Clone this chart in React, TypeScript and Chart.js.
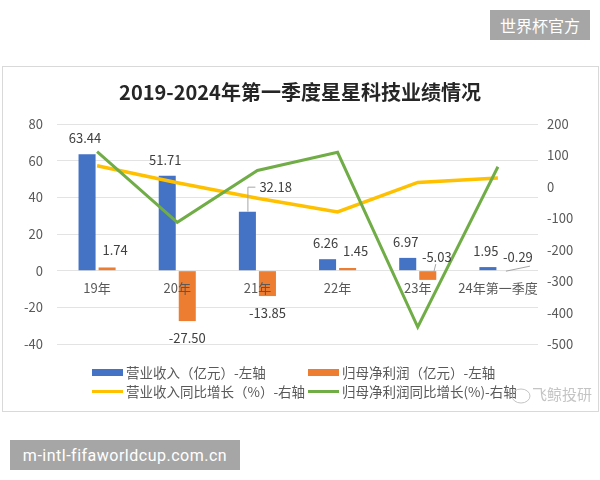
import { useEffect, useRef } from "react";
import { Chart, registerables } from "chart.js";

Chart.register(...registerables);

// ---- data ----
const categories = ["19年", "20年", "21年", "22年", "23年", "24年第一季度"];
const revenue = [63.44, 51.71, 32.18, 6.26, 6.97, 1.95];
const netProfit = [1.74, -27.5, -13.85, 1.45, -5.03, -0.29];
const revenueGrowth = [67, 13, -36, -80, 14, 28];
const profitGrowth = [112, -113, 52, 110, -446, 64];
const leftTicks = { min: -40, max: 80, step: 20 };
const rightTicks = { min: -500, max: 200, step: 100 };

const seriesNames = [
  "营业收入（亿元）-左轴",
  "归母净利润（亿元）-左轴",
  "营业收入同比增长（%）-右轴",
  "归母净利润同比增长(%)-右轴",
];
const titleText = "2019-2024年第一季度星星科技业绩情况";

const BLUE = "#4472C4";
const ORANGE = "#ED7D31";
const YELLOW = "#FFC000";
const GREEN = "#70AD47";
const FONT = '"Noto Sans CJK SC", "Noto Sans", sans-serif';
const TEXT = "#595959";
const LABEL = "#404040";

const framePlugin = {
  id: "frame",
  beforeDraw(chart: any) {
    const ctx = chart.ctx;
    ctx.save();
    ctx.fillStyle = "#ffffff";
    ctx.fillRect(0, 0, chart.width, chart.height);
    ctx.strokeStyle = "#d9d9d9";
    ctx.lineWidth = 1;
    ctx.strokeRect(2.5, 66.5, 596, 345);
    ctx.restore();
  },
};

const labelsPlugin = {
  id: "valueLabels",
  afterDatasetsDraw(chart: any) {
    const ctx = chart.ctx;
    ctx.save();
    ctx.font = `13px ${FONT}`;
    ctx.fillStyle = LABEL;
    ctx.strokeStyle = "#a6a6a6";
    ctx.lineWidth = 1;
    ctx.textBaseline = "middle";
    const m0 = chart.getDatasetMeta(0);
    m0.data.forEach((el: any, i: number) => {
      const p = el.getProps(["x", "y", "base"], true);
      const txt = revenue[i].toFixed(2);
      if (i === 2) {
        ctx.beginPath();
        ctx.moveTo(p.x + 0.5, p.y);
        ctx.lineTo(p.x + 0.5, p.y - 24.5);
        ctx.lineTo(p.x + 8, p.y - 24.5);
        ctx.stroke();
        ctx.textAlign = "left";
        ctx.fillText(txt, p.x + 12, p.y - 25);
      } else {
        ctx.textAlign = "center";
        ctx.fillText(txt, p.x - 2, p.y - 16);
      }
    });
    const m1 = chart.getDatasetMeta(1);
    m1.data.forEach((el: any, i: number) => {
      const p = el.getProps(["x", "y", "base"], true);
      const v = netProfit[i];
      const txt = v.toFixed(2);
      ctx.textAlign = "center";
      if (i === 4) {
        ctx.beginPath();
        ctx.moveTo(p.x + 8, p.base - 7);
        ctx.lineTo(p.x + 6, p.base + 1);
        ctx.stroke();
        ctx.fillText(txt, p.x + 9, p.base - 14);
      } else if (i === 5) {
        ctx.beginPath();
        ctx.moveTo(p.x - 2, p.base);
        ctx.lineTo(p.x + 22, p.base - 5);
        ctx.stroke();
        ctx.fillText(txt, p.x + 10, p.base - 14);
      } else if (v >= 0) {
        ctx.fillText(txt, p.x + 8, p.y - 17);
      } else {
        ctx.fillText(txt, p.x, p.y + 17);
      }
    });
    ctx.restore();
  },
};

const decorPlugin = {
  id: "decor",
  afterDraw(chart: any) {
    const ctx = chart.ctx;
    ctx.save();
    // title
    ctx.fillStyle = "#262626";
    ctx.font = `bold 20px ${FONT}`;
    ctx.textAlign = "center";
    ctx.textBaseline = "middle";
    ctx.fillText(titleText, chart.width / 2, 92);

    // legend
    const colX = [92, 308];
    const rowY = [372, 391];
    const colors = [BLUE, ORANGE, YELLOW, GREEN];
    ctx.font = `13.5px ${FONT}`;
    ctx.textAlign = "left";
    seriesNames.forEach((name, i) => {
      const x = colX[i % 2];
      const y = rowY[Math.floor(i / 2)];
      ctx.fillStyle = colors[i];
      if (i < 2) {
        ctx.fillRect(x, y - 3, 31, 7);
      } else {
        ctx.fillRect(x, y - 1, 31, 3);
      }
      ctx.fillStyle = TEXT;
      ctx.fillText(name, x + 34, y + 1);
    });

    // watermark
    ctx.fillStyle = "rgba(190,190,190,0.9)";
    ctx.font = `15px ${FONT}`;
    ctx.fillText("飞鲸投研", 532, 394);
    ctx.strokeStyle = "rgba(190,190,190,0.9)";
    ctx.beginPath();
    ctx.ellipse(521, 396, 9, 7, 0, 0, Math.PI * 2);
    ctx.stroke();
    ctx.restore();
  },
};

export default function App() {
  const ref = useRef<HTMLCanvasElement | null>(null);
  useEffect(() => {
    document.body.style.margin = "0";
    const canvas = ref.current;
    if (!canvas) return;
    const chart = new Chart(canvas, {
      type: "bar",
      data: {
        labels: categories,
        datasets: [
          {
            type: "bar",
            label: seriesNames[0],
            data: revenue,
            backgroundColor: BLUE,
            yAxisID: "y",
            order: 2,
            categoryPercentage: 0.5,
            barPercentage: 0.85,
          },
          {
            type: "bar",
            label: seriesNames[1],
            data: netProfit,
            backgroundColor: ORANGE,
            yAxisID: "y",
            order: 2,
            categoryPercentage: 0.5,
            barPercentage: 0.85,
          },
          {
            type: "line",
            label: seriesNames[2],
            data: revenueGrowth,
            borderColor: YELLOW,
            backgroundColor: YELLOW,
            borderWidth: 3.5,
            pointRadius: 0,
            tension: 0,
            yAxisID: "y1",
            order: 1,
          },
          {
            type: "line",
            label: seriesNames[3],
            data: profitGrowth,
            borderColor: GREEN,
            backgroundColor: GREEN,
            borderWidth: 3,
            pointRadius: 0,
            tension: 0,
            yAxisID: "y1",
            order: 0,
          },
        ] as any,
      },
      options: {
        responsive: false,
        animation: false,
        layout: { padding: { top: 124, bottom: 136, left: 0, right: 0 } },
        plugins: {
          legend: { display: false },
          title: { display: false },
          tooltip: { enabled: false },
        },
        scales: {
          x: {
            position: { y: 0 } as any,
            grid: { display: false, drawTicks: false },
            border: { display: false },
            ticks: {
              z: 1,
              color: TEXT,
              font: { size: 13, family: FONT },
              padding: 10,
              maxRotation: 0,
              autoSkip: false,
            },
          },
          y: {
            position: "left",
            min: leftTicks.min,
            max: leftTicks.max,
            ticks: {
              stepSize: leftTicks.step,
              color: TEXT,
              font: { size: 13, family: FONT },
              padding: 14,
            },
            grid: { color: "#e3e3e3", drawTicks: false },
            border: { display: false },
            afterFit(scale: any) {
              scale.width = 57;
            },
          },
          y1: {
            position: "right",
            min: rightTicks.min,
            max: rightTicks.max,
            ticks: {
              stepSize: rightTicks.step,
              color: TEXT,
              font: { size: 13, family: FONT },
              padding: 9,
            },
            grid: { display: false, drawTicks: false },
            border: { display: false },
            afterFit(scale: any) {
              scale.width = 62;
            },
          },
        },
      },
      plugins: [framePlugin, labelsPlugin, decorPlugin],
    });
    return () => chart.destroy();
  }, []);

  return (
    <div style={{ position: "relative", width: 600, height: 480, background: "#fff" }}>
      <canvas ref={ref} width={600} height={480} style={{ display: "block" }} />
      <div
        style={{
          position: "absolute",
          left: 490,
          top: 10,
          width: 100,
          height: 30,
          background: "#a6a6a6",
          color: "#ffffff",
          font: `16px ${FONT}`,
          display: "flex",
          alignItems: "center",
          justifyContent: "center",
        }}
      >
        世界杯官方
      </div>
      <div
        style={{
          position: "absolute",
          left: 10,
          top: 440,
          width: 230,
          height: 30,
          background: "#a6a6a6",
          color: "#ffffff",
          font: '16px Roboto, "Noto Sans", sans-serif',
          letterSpacing: "0.5px",
          display: "flex",
          alignItems: "center",
          justifyContent: "center",
        }}
      >
        m-intl-fifaworldcup.com.cn
      </div>
    </div>
  );
}
